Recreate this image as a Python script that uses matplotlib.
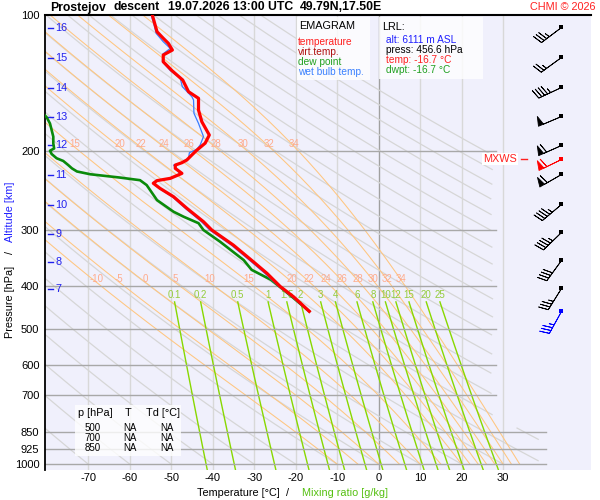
import numpy as np
import matplotlib
matplotlib.use('Agg')
import matplotlib.pyplot as plt
from matplotlib.ticker import FixedLocator, FixedFormatter, NullLocator
from matplotlib.patches import Rectangle
import matplotlib.transforms as mtransforms

plt.rcParams['font.family'] = ['Liberation Sans', 'DejaVu Sans']

# ---------------- data ----------------
temp_p = [100, 108.7, 112.4, 115.3, 119.4, 122.5, 126.8, 132.7, 139.3, 147.9, 153.0,
          162.5, 172.5, 184.7, 192.6, 199.6, 204.6, 209.9, 212.9, 215.5, 219.2, 224.9,
          230.7, 233.4, 236.6, 242.8, 253.6, 269.1, 288.2, 300.8, 325.0, 353.9, 375.7,
          402.0, 423.7, 456.6]
temp_T = [-54.5, -53.4, -51.9, -50.7, -49.7, -51.9, -51.9, -49.8, -47.2, -45.8, -43.4,
          -43.4, -42.6, -40.8, -41.8, -43.8, -45.0, -46.2, -47.4, -49.0, -49.0, -47.4,
          -50.2, -53.4, -54.3, -52.7, -49.4, -46.2, -42.2, -40.2, -35.0, -30.2, -26.9,
          -23.7, -20.5, -16.7]

dew_p = [166.7, 168.6, 174.1, 180.0, 186.3, 192.9, 197.9, 200.2, 203.6, 208.1, 211.0,
         215.5, 219.2, 222.7, 225.9, 229.8, 232.9, 238.8, 258.0, 273.9, 280.9, 290.4,
         300.8, 319.4, 351.0, 369.0, 388.5, 402.0, 425.0, 456.6]
dew_T = [-80.5, -80.0, -79.2, -78.8, -78.4, -78.4, -78.2, -79.2, -78.8, -77.6, -76.0,
         -74.8, -73.9, -72.7, -69.5, -62.3, -57.5, -55.9, -53.4, -49.4, -47.0, -43.4,
         -42.2, -38.2, -32.5, -30.6, -25.9, -23.9, -20.7, -16.7]

wb_p = [100.6, 105.0, 109.6, 114.4, 118.4, 121.9, 126.8, 132.7, 138.0, 144.1, 151.7,
        154.3, 165.2, 174.0, 186.2, 194.4, 198.8, 202.2, 208.3, 213.6, 215.5, 225.9,
        230.7, 233.4, 236.6, 242.8, 253.6, 269.1, 288.2, 300.8, 325.0, 353.9, 375.7,
        402.0, 423.7, 456.6]
wb_T = [-54.7, -54.1, -53.6, -51.9, -50.2, -52.0, -52.1, -50.2, -47.8, -47.3, -45.0,
        -44.6, -44.5, -43.4, -42.2, -43.0, -43.8, -45.6, -45.8, -47.8, -49.4, -47.8,
        -50.5, -53.6, -54.4, -52.9, -49.7, -46.6, -42.7, -40.7, -35.5, -30.7, -27.4,
        -24.0, -20.8, -16.8]

alt_km = [16, 15, 14, 13, 12, 11, 10, 9, 8, 7]
alt_p = [106.6, 124.4, 145.1, 168.4, 194.8, 226.6, 264.5, 307.0, 354.0, 407.0]

wind_p = [106.1, 123.7, 144.3, 167.6, 194.4, 209.1, 225.7, 263.1, 304.3, 350.4, 405.1, 455.9]
wind_dir = [233, 234, 245, 247, 246, 244, 240, 230, 226, 216, 212, 209]
wind_kt = [35, 25, 45, 50, 60, 60, 60, 45, 45, 40, 35, 35]
wind_col = ['black', 'black', 'black', 'black', 'black', 'red', 'black',
            'black', 'black', 'black', 'black', 'blue']

theta_w = [-10, -5, 0, 5, 10, 15, 20, 22, 24, 26, 28, 30, 32, 34]
mix_ratio = [0.1, 0.2, 0.5, 1, 1.5, 2, 3, 4, 6, 8, 10, 12, 15, 20, 25]
mix_lbl = ['0.1', '0.2', '0.5', '1', '1.5', '2', '3', '4', '6', '8', '10', '12', '15', '20', '25']
theta_dry_C = list(range(-70, 201, 10))

p_ticks = [100, 200, 300, 400, 500, 600, 700, 850, 925, 1000]
t_ticks = [-70, -60, -50, -40, -30, -20, -10, 0, 10, 20, 30]

# ---------------- figure ----------------
W, H = 600, 500
fig = plt.figure(figsize=(6, 5), dpi=100)
fig.patch.set_facecolor('white')
ax = fig.add_axes([45 / W, 30 / H, 546 / W, 454.5 / H])
ax.set_facecolor('#f0f0fc')
ax.set_yscale('log')
PBOT = 1031
XL, XR = -80.4, 51.2
ax.set_ylim(PBOT, 100)
ax.set_xlim(XL, XR)

ax.yaxis.set_major_locator(FixedLocator(p_ticks))
ax.yaxis.set_major_formatter(FixedFormatter([str(p) for p in p_ticks]))
ax.yaxis.set_minor_locator(NullLocator())
ax.xaxis.set_major_locator(FixedLocator(t_ticks))
ax.xaxis.set_major_formatter(FixedFormatter([str(t) for t in t_ticks]))
ax.tick_params(axis='both', length=0, labelsize=8)
ax.tick_params(axis='y', pad=4)
ax.tick_params(axis='x', pad=2)
for s in ['bottom', 'right']:
    ax.spines[s].set_visible(False)
ax.spines['left'].set_linewidth(1.3)
ax.spines['top'].set_linewidth(1.5)

def fx(x):
    return x / W

def fy(y):
    return 1 - y / H

# isotherms
for t in t_ticks:
    ax.plot([t, t], [PBOT, 100], color='#a0a0a0' if t == 0 else '#d8d8d8', lw=1, zorder=1)

# isobars
for p in p_ticks[1:]:
    xr = 40.4 if p >= 850 else 28.2
    ax.plot([XL, xr], [p, p], color='#a8a8a8', lw=1, zorder=2)

# dry adiabats
pp = np.geomspace(1000, 100, 400)
for thc in theta_dry_C:
    T = (thc + 273.15) * (pp / 1000.0) ** 0.286 - 273.15
    tmax = np.where(pp >= 830, 38.5, 27.5)
    T = np.where(T <= tmax, T, np.nan)
    ax.plot(T, pp, color='#d6d6d6', lw=0.9, zorder=1.5)

# moist adiabats
def moist(t0, p):
    Rd, cp, Lv, eps = 287.04, 1005.7, 2.501e6, 0.622
    def f(T, pr):
        es = 6.112 * np.exp(17.67 * (T - 273.15) / (T - 29.65))
        rs = eps * es / (pr - es)
        return (Rd * T + Lv * rs) / (pr * (cp + Lv * Lv * rs * eps / (Rd * T * T)))
    T = t0 + 273.15
    out = [T]
    for i in range(1, len(p)):
        p0, p1 = p[i - 1], p[i]
        dp = p1 - p0
        k1 = f(T, p0)
        k2 = f(T + 0.5 * dp * k1, p0 + 0.5 * dp)
        k3 = f(T + 0.5 * dp * k2, p0 + 0.5 * dp)
        k4 = f(T + dp * k3, p1)
        T = T + dp * (k1 + 2 * k2 + 2 * k3 + k4) / 6
        out.append(T)
    return np.array(out) - 273.15

for tw in theta_w:
    Tm = moist(tw, pp)
    ax.plot(Tm, pp, color='#ffc680', lw=0.75, zorder=1.6)
    for plev in (400, 200):
        tl = np.interp(np.log(plev), np.log(pp[::-1]), Tm[::-1]) - 1.0
        if tl > -78:
            ax.text(tl, plev * 0.99, str(tw), color='#ffab8c', fontsize=7,
                    ha='center', va='bottom', zorder=3)

# mixing ratio lines
pm = np.geomspace(435, PBOT, 100)
for w, lb in zip(mix_ratio, mix_lbl):
    e = w * pm / (622.0 + w)
    le = np.log(e / 6.112)
    Tw = 243.5 * le / (17.67 - le)
    ax.plot(Tw, pm, color='#88d800', lw=1.0, zorder=1.7)
    ax.text(Tw[0], 420, lb, color='#94cc3c', fontsize=7, ha='center', va='center', zorder=3)

# profiles
ax.plot(dew_T, dew_p, color='#0a8a0a', lw=1.9, zorder=5)
ax.plot(wb_T, wb_p, color='#3a7cff', lw=0.9, zorder=5.5)
ax.plot(temp_T, temp_p, color='#ff0000', lw=2.3, zorder=6)

# altitude labels
tb = mtransforms.blended_transform_factory(ax.transAxes, ax.transData)
for km, p in zip(alt_km, alt_p):
    ax.plot([0.0055, 0.0145], [p, p], color='#2020ee', lw=1, transform=tb, zorder=4)
    ax.text(0.0185, p, str(km), color='#2020ee', fontsize=7.8, ha='left', va='center',
            transform=tb, zorder=4)

# wind barbs
bx = 44.0
for p, d, s, c in zip(wind_p, wind_dir, wind_kt, wind_col):
    u = -s * np.sin(np.radians(d))
    v = -s * np.cos(np.radians(d))
    ax.barbs([bx], [p], [u], [v], length=6, color=c, linewidth=0.6,
             sizes=dict(spacing=0.13, height=0.38, width=0.22), zorder=6)
    ax.plot([bx], [p], marker='s', ms=2.2, color=c, mew=0, zorder=6)

# MXWS label
fig.text(fx(517), fy(159), 'MXWS', color='#ff2020', fontsize=7.8, ha='right', va='center',
         bbox=dict(fc='white', ec='none', pad=0.6), zorder=7)
fig.add_artist(plt.Line2D([fx(521), fx(527)], [fy(159), fy(159)], color='#ff2020', lw=1))

# legend boxes
def box(x0, y0, x1, y1):
    ax.add_patch(Rectangle((fx(x0), fy(y1)), (x1 - x0) / W, (y1 - y0) / H,
                           transform=fig.transFigure, fc='white', ec='none',
                           alpha=0.8, zorder=4))

box(297, 16.5, 370, 80)
fig.text(fx(299), fy(25.7), 'EMAGRAM', fontsize=7.8, va='center', color='black')
for txt, yy, col in [('temperature', 41.7, '#ff2020'), ('virt.temp.', 51.7, '#b01010'),
                     ('dew point', 61.7, '#20a020'), ('wet bulb temp.', 71.7, '#3a80ff')]:
    fig.text(fx(298), fy(yy), txt, fontsize=7.3, va='center', color=col)

box(379, 16.5, 483, 79)
fig.text(fx(382), fy(27.3), 'LRL:', fontsize=7.8, va='center', color='black')
for txt, yy, col in [('alt: 6111 m ASL', 40, '#2020ff'), ('press: 456.6 hPa', 50, 'black'),
                     ('temp: -16.7 °C', 60, '#ff2020'), ('dwpt: -16.7 °C', 70, '#20a020')]:
    fig.text(fx(386), fy(yy), txt, fontsize=7.3, va='center', color=col)

box(75, 405, 181, 456)
fig.text(fx(78), fy(413), 'p [hPa]', fontsize=7.8, va='center')
fig.text(fx(128), fy(413), 'T', fontsize=7.8, va='center', ha='center')
fig.text(fx(146), fy(413), 'Td [°C]', fontsize=7.8, va='center')
for lev, yy in zip(['500', '700', '850'], [428, 438, 448]):
    fig.text(fx(93), fy(yy), lev, fontsize=7, va='center', ha='center')
    fig.text(fx(130), fy(yy), 'NA', fontsize=7, va='center', ha='center')
    fig.text(fx(167), fy(yy), 'NA', fontsize=7, va='center', ha='center')

# title
for txt, xx in [('Prostejov', 50), ('descent', 114), ('19.07.2026 13:00 UTC', 168),
                ('49.79N,17.50E', 300)]:
    fig.text(fx(xx), fy(7.5), txt, fontsize=8.8, fontweight='bold', va='center', ha='left')
fig.text(fx(596), fy(7), 'CHMI © 2026', fontsize=7.8, color='#ff2020', va='center', ha='right')

# axis labels
fig.text(fx(10), fy(212), 'Altitude [km]', rotation=90, color='#2020ff', fontsize=7.8,
         ha='center', va='center')
fig.text(fx(10), fy(253), '/', rotation=90, color='black', fontsize=7.8, ha='center', va='center')
fig.text(fx(10), fy(302), 'Pressure [hPa]', rotation=90, color='black', fontsize=7.8,
         ha='center', va='center')
fig.text(fx(197), fy(493), 'Temperature [°C]', fontsize=7.8, va='center', ha='left')
fig.text(fx(288), fy(493), '/', fontsize=7.8, va='center', ha='center')
fig.text(fx(302), fy(493), 'Mixing ratio [g/kg]', fontsize=7.8, va='center', ha='left',
         color='#55c010')

fig.savefig('out.png', dpi=100)
